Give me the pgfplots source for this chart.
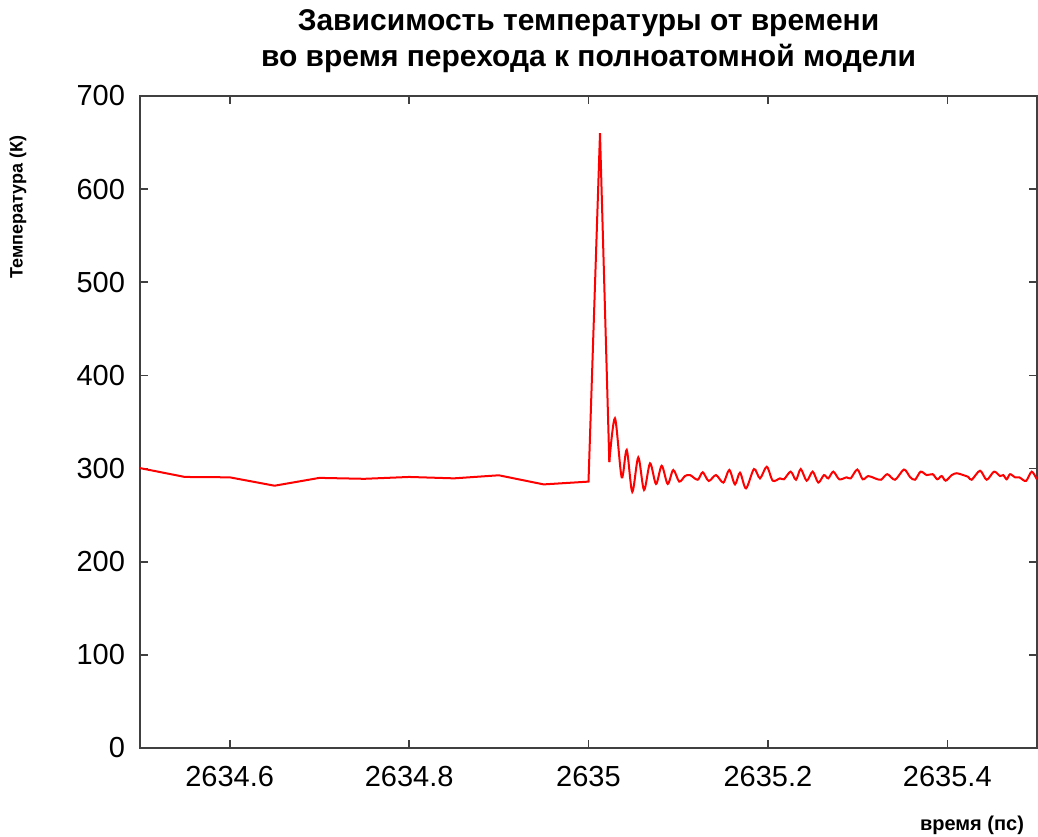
\documentclass[border=0pt]{standalone}
\usepackage{fontspec}
\setmainfont{Liberation Sans}
\usepackage{pgfplots}
\pgfplotsset{compat=1.18}

\definecolor{frame}{HTML}{404040}

\begin{document}
\begin{tikzpicture}
\useasboundingbox (-70pt,-44pt) rectangle (449pt,374pt);
\begin{axis}[
    at={(0,0)}, anchor=south west,
    scale only axis,
    width=448.5pt,
    height=326pt,
    xmin=2634.5, xmax=2635.5,
    ymin=0, ymax=700,
    xtick={2634.6,2634.8,2635,2635.2,2635.4},
    ytick={0,100,...,700},
    xticklabels={2634.6,2634.8,2635,2635.2,2635.4},
    /pgf/number format/assume math mode=true,
    tick label style={font=\fontsize{14.5}{16}\selectfont, text=black},
    xticklabel style={yshift=-5.5pt},
    yticklabel style={xshift=-4pt},
    tick align=inside,
    major tick length=4pt,
    axis line style={frame, line width=0.8pt},
    every tick/.style={frame, line width=0.8pt},
    title={Зависимость температуры от времени\\во время перехода к полноатомной модели},
    title style={font=\fontsize{15}{18}\selectfont\bfseries, align=center,
        at={(rel axis cs:0.5,1)}, anchor=south, yshift=2pt},
    xlabel={время (пс)},
    xlabel style={font=\fontsize{10}{12}\selectfont\bfseries,
        at={(rel axis cs:1,0)}, anchor=base east, yshift=-41pt, xshift=-3pt},
    clip=true,
]
\addplot[red, line width=1pt] coordinates {
    (2634.50, 300.5) (2634.55, 291) (2634.60, 290.6) (2634.65, 281.6)
    (2634.70, 290) (2634.75, 289) (2634.80, 291) (2634.85, 289.5)
    (2634.90, 292.8) (2634.95, 283) (2635.00, 286) (2635.0128, 660)
    (2635.0232, 307)
};
\addplot[red, line width=1pt, smooth] coordinates {
    (2635.0232, 307) (2635.0295, 354) (2635.0370, 290.6) (2635.0426, 320)
    (2635.0488, 275) (2635.0555, 312) (2635.0619, 277) (2635.0686, 305.6)
    (2635.0753, 283.5) (2635.0816, 303) (2635.0883, 283.5) (2635.0945, 298.5)
    (2635.1012, 286) (2635.1076, 292) (2635.1132, 293) (2635.1217, 288)
    (2635.1273, 296) (2635.1340, 286.7) (2635.1421, 293) (2635.1503, 285)
    (2635.1570, 298.5) (2635.1633, 283) (2635.1689, 295.6) (2635.1756, 278.8)
    (2635.1845, 299.5) (2635.1912, 289.5) (2635.1987, 302) (2635.2054, 287)
    (2635.2135, 289.5) (2635.2179, 288.5) (2635.2254, 296.7) (2635.2313, 288)
    (2635.2366, 299.5) (2635.2432, 287) (2635.2499, 296.7) (2635.2562, 285)
    (2635.2625, 293) (2635.2673, 289.5) (2635.2729, 296.7) (2635.2796, 288.5)
    (2635.2878, 290.6) (2635.2923, 289.5) (2635.2997, 299) (2635.3057, 288.5)
    (2635.3119, 292) (2635.3194, 289.5) (2635.3261, 288) (2635.3331, 294)
    (2635.3417, 288) (2635.3517, 299) (2635.3584, 291) (2635.3640, 288)
    (2635.3703, 296.7) (2635.3770, 293) (2635.3837, 294) (2635.3888, 288.5)
    (2635.3937, 292) (2635.3982, 287) (2635.4049, 293) (2635.4105, 295)
    (2635.4178, 293) (2635.4234, 291) (2635.4272, 288) (2635.4365, 297.7)
    (2635.4439, 288) (2635.4521, 296.7) (2635.4588, 292) (2635.4624, 293)
    (2635.4662, 288.5) (2635.4699, 294) (2635.4755, 290.6) (2635.4803, 290.6)
    (2635.4877, 286.7) (2635.4941, 296.7) (2635.4997, 288.5)
};
\coordinate (yl) at (rel axis cs:0,0.83);
\end{axis}
\node[rotate=90, font=\fontsize{9}{11}\selectfont\bfseries, anchor=center]
    at ([xshift=-61pt]yl) {Температура (К)};
\end{tikzpicture}
\end{document}
